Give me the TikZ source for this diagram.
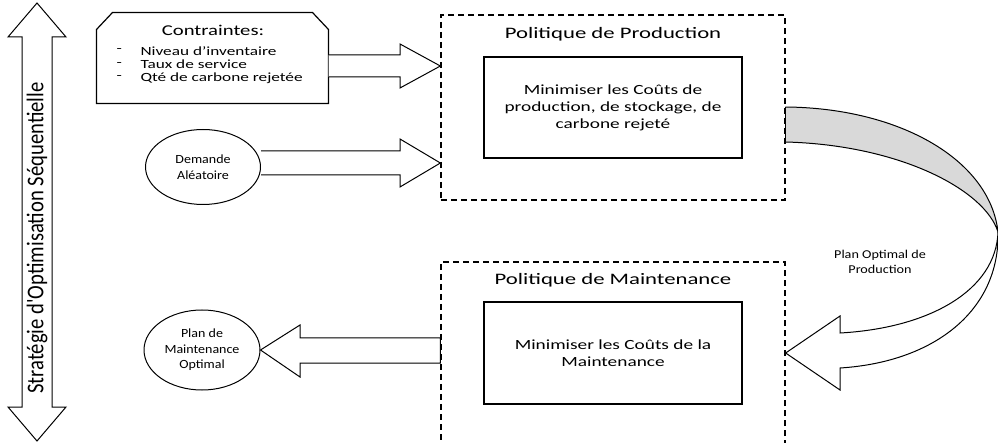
\documentclass[tikz,border=0pt]{standalone}
\usepackage{fontspec}
\setmainfont{Carlito}
\newfontfamily\wideA[FakeStretch=1.42]{Carlito}
\newfontfamily\wideB[FakeStretch=1.38]{Carlito}
\newfontfamily\wideC[FakeStretch=1.12]{Carlito}
\newfontfamily\wideD[FakeStretch=1.18]{Carlito}
\newfontfamily\condF[FakeStretch=0.86]{Carlito}
\usetikzlibrary{shapes.geometric,calc}
\begin{document}
\begin{tikzpicture}[x=1pt,y=-1pt,line width=1pt,line join=miter,
  dbox/.style={draw,dash pattern=on 6pt off 4pt,line width=1.3pt,inner sep=0pt},
  ibox/.style={draw,line width=1.3pt,align=center,font=\wideB\fontsize{14}{17}\selectfont},
  ell/.style={draw,ellipse,line width=1pt,align=center,inner sep=0pt,font=\wideC\fontsize{12.5}{15.5}\selectfont},
  barrow/.style={draw,fill=white,line width=1pt},
  ttl/.style={font=\wideA\fontsize{16}{19}\selectfont},
  lst/.style={font=\wideB\fontsize{12.5}{13.5}\selectfont,anchor=west,inner sep=0pt}]
\useasboundingbox (0,0) rectangle (998,443);
% left double arrow
\draw[line width=1pt] (37,3) -- (66,37) -- (52,37) -- (52,407) -- (66,407) -- (37,441)
  -- (8,407) -- (22,407) -- (22,37) -- (8,37) -- cycle;
\node[rotate=90,inner sep=0pt,font=\condF\fontsize{24}{24}\selectfont] (strat) at (37,238)
  {Stratégie d'Optimisation Séquentielle};
% contraintes
\node[minimum width=231pt,minimum height=90pt,inner sep=0pt] (contr) at (212.5,58) {};
\draw[line width=1.2pt] (contr.south west) -- ($(contr.north west)+(0,17)$) -- ($(contr.north west)+(16,0)$)
  -- ($(contr.north east)+(-16,0)$) -- ($(contr.north east)+(0,17)$) -- (contr.south east) -- cycle;
\node[font=\wideB\fontsize{15}{18}\selectfont] (ctitle) at (213,30) {Contraintes:};
\node[lst] (d1) at (116,51) {-};
\node[lst] (d2) at (116,64.5) {-};
\node[lst] (d3) at (116,78) {-};
\node[lst] (c1) at (140,51) {Niveau d’inventaire};
\node[lst] (c2) at (140,64.5) {Taux de service};
\node[lst] (c3) at (140,78) {Qté de carbone rejetée};
% production policy
\node[dbox,minimum width=344pt,minimum height=185pt] (pp) at (613,107.5) {};
\node[ttl] (ppt) at (613,34) {Politique de Production};
\node[ibox,minimum width=258pt,minimum height=101pt] (ppi) at (613,107.5)
  {Minimiser les Coûts de\\production, de stockage, de\\carbone rejeté};
% maintenance policy
\node[dbox,minimum width=344pt,minimum height=190pt] (pm) at (613,357) {};
\node[ttl] (pmt) at (613,280) {Politique de Maintenance};
\node[ibox,minimum width=258pt,minimum height=102pt] (pmi) at (613,353)
  {Minimiser les Coûts de la\\Maintenance};
% ellipses
\node[ell,minimum width=115pt,minimum height=75pt] (dem) at (203,167) {Demande\\Aléatoire};
\node[ell,minimum width=116pt,minimum height=80pt] (plan) at (202,350) {Plan de\\Maintenance\\Optimal};
% block arrows
\draw[barrow] (contr.east |- 0,55) -- (400,55) -- (400,44) -- (pp.west |- 0,66) -- (400,88) -- (400,77)
  -- (contr.east |- 0,77);
\draw[barrow] (dem.east |- 0,151) -- (400,151) -- (400,139) -- (pp.west |- 0,163) -- (400,187) -- (400,175)
  -- (dem.east |- 0,175);
\draw[barrow] (pm.west |- 0,338) -- (300,338) -- (300,325) -- (plan.east) -- (300,377) -- (300,363)
  -- (pm.west |- 0,363) -- cycle;
% curved arrow
\coordinate (ctop) at (pp.east |- 0,107);
\coordinate (cbot) at (pp.east |- 0,142);
\coordinate (tipc) at (pm.east |- 0,353);
\draw[fill=gray!30,line width=1pt] (ctop) .. controls (900,108) and (990,160) .. (998,232)
  .. controls (985,190) and (900,145) .. (cbot);
\draw[fill=white,line width=1pt] (998,232) .. controls (996,290) and (930,328) .. (840,333)
  -- (840,316) -- (tipc) -- (840,390) -- (840,368)
  .. controls (935,362) and (1000,310) .. (998,232);
\draw[line width=1.3pt] (ctop) -- (cbot);
\node[align=center,font=\wideD\fontsize{12}{15}\selectfont] (plab) at (880,262) {Plan Optimal de\\Production};
\end{tikzpicture}
\end{document}
